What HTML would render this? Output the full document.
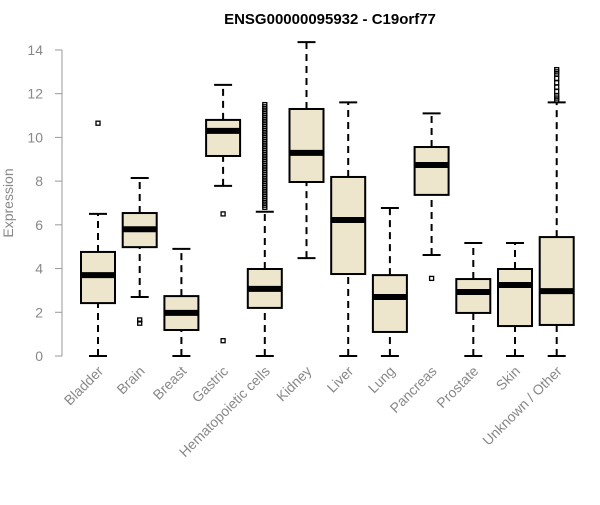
<!DOCTYPE html>
<html><head><meta charset="utf-8"><style>
body{margin:0;background:#fff;font-family:"Liberation Sans",sans-serif}
</style></head><body>
<svg id="chart" width="600" height="500"></svg>
<script>
const categories=["Bladder","Brain","Breast","Gastric","Hematopoietic cells","Kidney","Liver","Lung","Pancreas","Prostate","Skin","Unknown / Other"];
const lows=[0,2.7,0,7.78,0,4.48,0,0,4.62,0,0,0];
const q1s=[2.42,4.98,1.19,9.15,2.2,7.96,3.75,1.1,7.37,1.97,1.37,1.42];
const medians=[3.7,5.8,1.97,10.3,3.07,9.29,6.22,2.7,8.74,2.93,3.25,2.97];
const q3s=[4.76,6.54,2.74,10.8,3.98,11.3,8.19,3.7,9.56,3.52,3.98,5.44];
const highs=[6.5,8.14,4.9,12.4,6.6,14.36,11.6,6.77,11.1,5.17,5.17,11.6];
const outliers=[[10.65],[1.5,1.65],[],[6.5,0.7],
[6.8,6.9,7.0,7.1,7.2,7.3,7.4,7.5,7.6,7.7,7.8,7.9,8.0,8.1,8.2,8.3,8.4,8.5,8.6,8.7,8.8,8.9,9.0,9.1,9.2,9.3,9.4,9.5,9.6,9.7,9.8,9.9,10.0,10.1,10.2,10.3,10.4,10.5,10.6,10.7,10.8,10.9,11.0,11.1,11.2,11.3,11.4,11.5],
[],[],[],[3.55],[],[],[11.7,11.8,11.9,12.1,12.3,12.5,12.7,12.9,13.0,13.1]];
const yTicks=[0,2,4,6,8,10,12,14];
const NS="http://www.w3.org/2000/svg",svg=document.getElementById("chart");
const y=v=>356-v*21.86, x=i=>98+i*41.7;
function mk(t,a,p){const e=document.createElementNS(NS,t);for(const k in a)e.setAttribute(k,a[k]);(p||svg).appendChild(e);return e;}
let t=mk("text",{x:330,y:24,"text-anchor":"middle","font-size":15,"font-weight":"bold",fill:"#000"});t.textContent="ENSG00000095932 - C19orf77";

let ax=mk("line",{x1:62,x2:62,y1:y(0),y2:y(14),stroke:"#999"});

yTicks.forEach(v=>{mk("line",{x1:55,x2:62,y1:y(v),y2:y(v),stroke:"#999"});
const l=mk("text",{x:43,y:y(v)+5,"text-anchor":"end","font-size":14,fill:"#888"});l.textContent=v;
});
const yt=mk("text",{x:13,y:203,"text-anchor":"middle","font-size":14,fill:"#888",transform:"rotate(-90 13 203)"});yt.textContent="Expression";

categories.forEach((c,i)=>{const cx=x(i),g=mk("g",{});

mk("line",{x1:cx,x2:cx,y1:y(lows[i]),y2:y(q1s[i]),stroke:"#000","stroke-width":2,"stroke-dasharray":"7,5"},g);
mk("line",{x1:cx,x2:cx,y1:y(q3s[i]),y2:y(highs[i]),stroke:"#000","stroke-width":2,"stroke-dasharray":"7,5"},g);
mk("line",{x1:cx-9,x2:cx+9,y1:y(lows[i]),y2:y(lows[i]),stroke:"#000","stroke-width":2},g);
mk("line",{x1:cx-9,x2:cx+9,y1:y(highs[i]),y2:y(highs[i]),stroke:"#000","stroke-width":2},g);
mk("rect",{x:cx-17,y:y(q3s[i]),width:34,height:y(q1s[i])-y(q3s[i]),fill:"#ede6cc",stroke:"#000","stroke-width":2},g);
mk("line",{x1:cx-17,x2:cx+17,y1:y(medians[i]),y2:y(medians[i]),stroke:"#000","stroke-width":6},g);
outliers[i].forEach(v=>mk("rect",{x:cx-2,y:y(v)-2,width:4,height:4,fill:"none",stroke:"#000","stroke-width":1.3},g));
const lb=mk("text",{x:cx+6,y:372,"text-anchor":"end","font-size":14,fill:"#888",transform:`rotate(-45 ${cx+6} 372)`});lb.textContent=c;
});
</script></body></html>
